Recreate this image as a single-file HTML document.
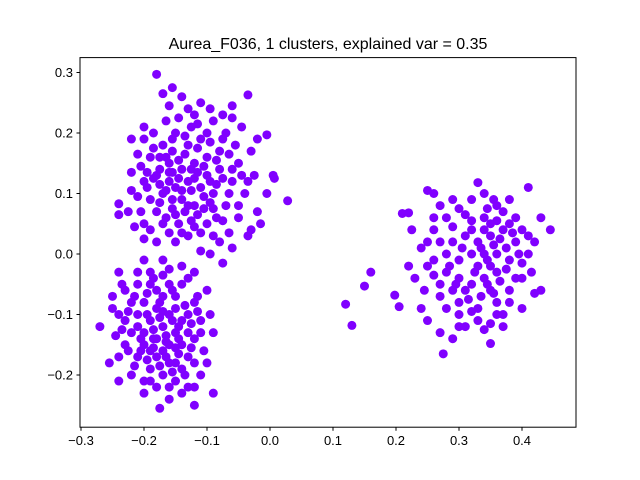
<!DOCTYPE html>
<html><head><meta charset="utf-8"><style>
body{margin:0;background:#fff;}
svg{display:block;font-family:"Liberation Sans","DejaVu Sans",sans-serif;}
</style></head><body>
<svg id="chart" width="640" height="480">
<rect width="640" height="480" fill="#fff"/>
<text x="328" y="49" text-anchor="middle" font-size="16">Aurea_F036, 1 clusters, explained var = 0.35</text>
<g id="points"></g>
<rect x="80" y="57.6" width="496" height="369.6" fill="none" stroke="#000" stroke-width="1"/>
<g id="xaxis"></g>
<g id="yaxis"></g>
</svg>
<script>
const xTicks = [-0.3,-0.2,-0.1,0.0,0.1,0.2,0.3,0.4];
const xTickLabels = ["\u22120.3","\u22120.2","\u22120.1","0.0","0.1","0.2","0.3","0.4"];
const yTicks = [-0.2,-0.1,0.0,0.1,0.2,0.3];
const yTickLabels = ["\u22120.2","\u22120.1","0.0","0.1","0.2","0.3"];
const points = [
[-0.18,0.297],[-0.155,0.275],[-0.17,0.265],[-0.035,0.263],[-0.14,0.26],[-0.06,0.245],[-0.11,0.25],[-0.2,0.21],[-0.22,0.19],[-0.005,0.197],[-0.02,0.19],[-0.24,0.083],[-0.24,0.065],[-0.22,0.105],[-0.22,0.135],[-0.21,0.165],[0.028,0.088],[0.005,0.13],[0.007,0.125],[-0.005,0.1],[-0.02,0.07],[-0.015,0.05],[-0.035,0.03],[-0.03,0.04],[-0.08,0.02],[-0.095,0.0],[-0.075,-0.015],[-0.06,0.01],[-0.12,-0.03],[-0.11,0.005],[-0.15,0.02],[-0.18,0.02],[-0.2,0.025],[-0.215,0.045],[-0.18,0.07],[-0.195,0.135],[-0.155,0.075],[-0.13,0.08],[-0.1,0.05],[-0.07,0.08],[-0.04,0.1],[-0.05,0.15],[-0.03,0.17],[-0.07,0.2],[-0.09,0.22],[-0.12,0.23],[-0.15,0.2],[-0.17,0.18],[-0.19,0.16],[-0.16,0.15],[-0.14,0.14],[-0.12,0.15],[-0.1,0.16],[-0.08,0.14],[-0.06,0.12],[-0.09,0.1],[-0.11,0.11],[-0.13,0.12],[-0.15,0.11],[-0.17,0.1],[-0.19,0.09],[-0.16,0.12],[-0.14,0.09],[-0.12,0.08],[-0.1,0.13],[-0.08,0.17],[-0.11,0.19],[-0.13,0.18],[-0.155,0.17],[-0.175,0.14],[-0.165,0.06],[-0.145,0.05],[-0.125,0.055],[-0.105,0.075],[-0.085,0.06],[-0.05,0.06],[-0.065,0.035],[-0.1,0.2],[-0.125,0.21],[-0.145,0.225],[-0.165,0.22],[-0.185,0.2],[-0.055,0.18],[-0.045,0.21],[-0.075,0.23],[-0.135,0.165],[-0.115,0.135],[-0.095,0.12],[-0.155,0.135],[-0.175,0.115],[-0.195,0.11],[-0.205,0.07],[-0.11,0.035],[-0.13,0.03],[-0.09,0.03],[-0.16,0.035],
[-0.185,0.125],[-0.165,0.105],[-0.145,0.125],[-0.125,0.105],[-0.105,0.095],[-0.085,0.115],[-0.065,0.1],[-0.175,0.085],[-0.155,0.09],[-0.135,0.07],[-0.115,0.065],[-0.095,0.085],[-0.075,0.055],[-0.185,0.175],[-0.165,0.16],[-0.145,0.155],[-0.125,0.14],[-0.105,0.145],[-0.085,0.155],[-0.065,0.165],[-0.135,0.195],[-0.115,0.175],[-0.095,0.185],[-0.075,0.19],[-0.155,0.19],[-0.175,0.16],[-0.115,0.215],[-0.095,0.24],[-0.13,0.24],[-0.16,0.245],[-0.2,0.19],[-0.205,0.145],[-0.2,0.12],[-0.21,0.095],[-0.225,0.07],[-0.06,0.225],[-0.045,0.13],[-0.035,0.12],[-0.025,0.13],[-0.05,0.08],[-0.2,0.05],[-0.19,0.04],[-0.14,0.035],[-0.12,0.045],[-0.06,0.14],[-0.075,0.125],[-0.09,0.075],[-0.15,0.065],[-0.17,0.05],[-0.14,0.105],[-0.12,0.125],[-0.16,0.135],[-0.18,0.13],
[-0.175,-0.255],[-0.12,-0.25],[-0.09,-0.23],[-0.2,-0.23],[-0.24,-0.21],[-0.255,-0.18],[-0.27,-0.12],[-0.25,-0.07],[-0.24,-0.03],[-0.2,-0.01],[-0.19,-0.03],[-0.17,-0.01],[-0.14,-0.02],[-0.13,-0.04],[-0.1,-0.06],[-0.095,-0.1],[-0.09,-0.13],[-0.105,-0.16],[-0.11,-0.2],[-0.13,-0.22],[-0.15,-0.21],[-0.16,-0.24],[-0.22,-0.2],[-0.23,-0.15],[-0.24,-0.1],[-0.23,-0.06],[-0.21,-0.05],[-0.18,-0.06],[-0.16,-0.05],[-0.15,-0.07],[-0.12,-0.08],[-0.11,-0.11],[-0.12,-0.14],[-0.13,-0.17],[-0.15,-0.18],[-0.17,-0.2],[-0.19,-0.19],[-0.21,-0.17],[-0.22,-0.13],[-0.21,-0.1],[-0.2,-0.08],[-0.18,-0.09],[-0.16,-0.1],[-0.14,-0.11],[-0.13,-0.13],[-0.14,-0.15],[-0.16,-0.15],[-0.18,-0.14],[-0.2,-0.13],[-0.19,-0.11],[-0.17,-0.12],[-0.15,-0.13],[-0.17,-0.16],[-0.19,-0.16],[-0.2,-0.15],[-0.21,-0.12],[-0.18,-0.17],[-0.16,-0.18],[-0.14,-0.19],[-0.12,-0.18],[-0.13,-0.1],[-0.15,-0.09],[-0.17,-0.07],[-0.19,-0.05],[-0.22,-0.08],[-0.23,-0.11],[-0.17,-0.035],[-0.2,-0.21],[-0.18,-0.22],[-0.14,-0.23],
[-0.205,-0.14],[-0.185,-0.125],[-0.165,-0.135],[-0.145,-0.12],[-0.125,-0.115],[-0.195,-0.1],[-0.175,-0.105],[-0.155,-0.11],[-0.135,-0.085],[-0.115,-0.095],[-0.185,-0.155],[-0.165,-0.17],[-0.145,-0.165],[-0.125,-0.155],[-0.205,-0.16],[-0.195,-0.175],[-0.175,-0.185],[-0.155,-0.195],[-0.135,-0.2],[-0.215,-0.185],[-0.225,-0.16],[-0.235,-0.125],[-0.225,-0.095],[-0.215,-0.07],[-0.195,-0.065],[-0.175,-0.08],[-0.155,-0.06],[-0.14,-0.05],[-0.185,-0.04],[-0.16,-0.025],[-0.21,-0.03],[-0.235,-0.05],[-0.25,-0.09],[-0.245,-0.135],[-0.24,-0.17],[-0.115,-0.07],[-0.11,-0.13],[-0.1,-0.18],[-0.12,-0.22],[-0.16,-0.22],[-0.19,-0.21],[-0.165,-0.145],[-0.145,-0.14],[-0.185,-0.14],[-0.17,-0.095],[-0.15,-0.155],
[0.275,-0.165],[0.35,-0.148],[0.29,-0.14],[0.27,-0.13],[0.25,-0.11],[0.31,-0.12],[0.37,-0.12],[0.4,-0.09],[0.42,-0.065],[0.415,-0.03],[0.445,0.04],[0.41,0.11],[0.33,0.118],[0.36,0.08],[0.29,0.09],[0.25,0.105],[0.26,0.1],[0.22,0.068],[0.21,0.067],[0.225,0.04],[0.22,-0.02],[0.23,-0.04],[0.245,-0.06],[0.27,-0.07],[0.3,-0.08],[0.33,-0.09],[0.36,-0.08],[0.38,-0.06],[0.4,-0.04],[0.41,0.0],[0.41,0.03],[0.39,0.06],[0.37,0.07],[0.34,0.06],[0.31,0.065],[0.28,0.06],[0.26,0.04],[0.25,0.02],[0.26,-0.01],[0.28,-0.03],[0.3,-0.04],[0.32,-0.05],[0.34,-0.04],[0.36,-0.03],[0.38,-0.01],[0.39,0.02],[0.37,0.04],[0.35,0.03],[0.33,0.02],[0.31,0.03],[0.29,0.02],[0.28,0.0],[0.3,-0.01],[0.32,0.0],[0.34,0.0],[0.36,0.0],[0.35,-0.02],[0.33,-0.02],[0.31,-0.06],[0.29,-0.06],[0.35,-0.06],[0.37,-0.1],[0.33,-0.11],[0.3,-0.1],[0.27,0.08],[0.32,0.09],[0.35,0.05],[0.38,0.09],[0.24,-0.09],[0.32,0.04],
[0.335,0.01],[0.355,0.015],[0.345,-0.01],[0.325,-0.03],[0.345,-0.05],[0.365,-0.045],[0.375,0.01],[0.365,0.025],[0.385,0.035],[0.395,0.0],[0.375,-0.025],[0.355,-0.065],[0.335,-0.07],[0.315,-0.075],[0.295,-0.05],[0.285,-0.02],[0.27,0.02],[0.29,0.045],[0.305,0.01],[0.32,0.055],[0.34,0.04],[0.36,0.055],[0.38,0.05],[0.4,0.04],[0.355,0.09],[0.345,0.075],[0.3,0.075],[0.34,0.1],[0.27,-0.05],[0.25,-0.02],[0.26,0.06],[0.24,0.01],[0.3,-0.12],[0.32,-0.095],[0.34,-0.125],[0.36,-0.1],[0.38,-0.08],[0.39,-0.04],[0.4,-0.015],[0.42,0.02],[0.43,-0.06],[0.43,0.06],[0.28,-0.09],[0.26,-0.035],[0.35,-0.115],
[0.12,-0.083],[0.13,-0.118],[0.15,-0.053],[0.16,-0.03],[0.198,-0.068],[0.205,-0.087]
];
const NS="http://www.w3.org/2000/svg";
function xs(v){return 270+v*630;}
function ys(v){return 254-v*605;}
const pg=document.getElementById('points');
points.forEach(function(p){
  const c=document.createElementNS(NS,'circle');
  c.setAttribute('cx',xs(p[0]));c.setAttribute('cy',ys(p[1]));c.setAttribute('r',4.5);
  c.setAttribute('fill','#8000ff');
  
  
  pg.appendChild(c);
});
const xg=document.getElementById('xaxis');
xTicks.forEach(function(t,i){
  const x=xs(t);
  const l=document.createElementNS(NS,'line');
  l.setAttribute('x1',x);l.setAttribute('x2',x);l.setAttribute('y1',427.2);l.setAttribute('y2',430.7);l.setAttribute('stroke','#000');
  
  
  xg.appendChild(l);
  const tx=document.createElementNS(NS,'text');
  tx.setAttribute('x',x);tx.setAttribute('y',445);tx.setAttribute('text-anchor','middle');tx.setAttribute('font-size','13');
  tx.textContent=xTickLabels[i];
  
  
  xg.appendChild(tx);
});
const yg=document.getElementById('yaxis');
yTicks.forEach(function(t,i){
  const y=ys(t);
  const l=document.createElementNS(NS,'line');
  l.setAttribute('x1',76.5);l.setAttribute('x2',80);l.setAttribute('y1',y);l.setAttribute('y2',y);l.setAttribute('stroke','#000');
  
  
  yg.appendChild(l);
  const tx=document.createElementNS(NS,'text');
  tx.setAttribute('x',73);tx.setAttribute('y',y+4.5);tx.setAttribute('text-anchor','end');tx.setAttribute('font-size','13');
  tx.textContent=yTickLabels[i];
  
  
  yg.appendChild(tx);
});
</script>
</body></html>
